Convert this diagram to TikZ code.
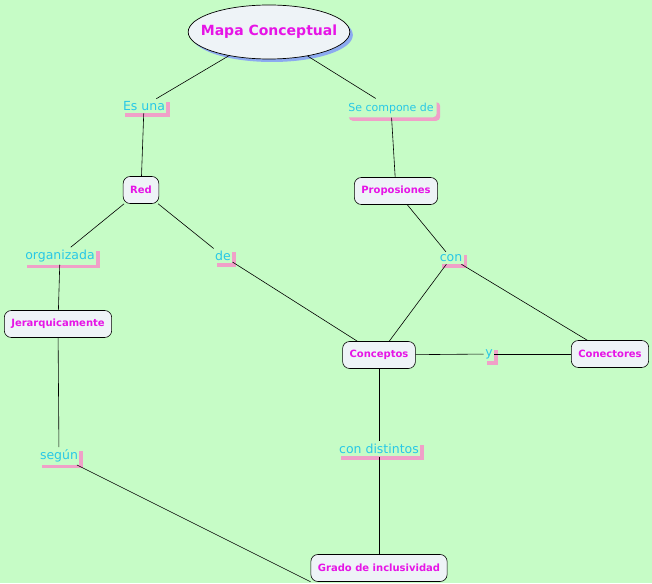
\documentclass[tikz,border=0pt]{standalone}
\usepackage{fontspec}
\setmainfont{DejaVu Sans}
\usetikzlibrary{shapes.geometric,shadows}
\definecolor{bgc}{RGB}{198,252,198}
\definecolor{lblc}{RGB}{40,200,230}
\definecolor{conc}{RGB}{230,20,230}
\definecolor{boxc}{RGB}{238,243,247}
\definecolor{pinkc}{RGB}{240,160,200}
\definecolor{bluec}{RGB}{140,170,240}
\tikzset{
  concept/.style={draw=black, fill=boxc, rounded corners=7pt, font=\fontsize{10}{12}\selectfont\bfseries, text=conc, inner xsep=7pt, minimum height=27pt, line width=0.6pt},
  link/.style={fill=bgc, text=lblc, font=\fontsize{12.5}{14}\selectfont, inner xsep=1.5pt, inner ysep=2.5pt,
    drop shadow={shadow xshift=3.5pt, shadow yshift=-3.5pt, fill=pinkc, opacity=1}},
  edge/.style={draw=black, line width=0.6pt}
}
\begin{document}
\begin{tikzpicture}[x=1pt,y=-1pt]
\fill[bgc] (0,0) rectangle (652,583);
\useasboundingbox (0,0) rectangle (652,583);
\node[ellipse, draw=black, fill=boxc, minimum height=54pt, inner xsep=-11pt, inner ysep=0pt, line width=0.7pt,
  font=\fontsize{14}{16}\selectfont\bfseries, text=conc,
  drop shadow={shadow xshift=3pt, shadow yshift=-3pt, fill=bluec, opacity=1}] (mapa) at (269,32) {Mapa Conceptual};
\node[link] (esuna) at (144,106) {Es una};
\node[link, font=\fontsize{11}{13}\selectfont, rounded corners=4pt, inner xsep=3pt, inner ysep=4pt] (secomp) at (391,108) {Se compone de};
\node[concept] (red) at (141,190) {Red};
\node[concept] (prop) at (396,191) {Proposiones};
\node[link] (organ) at (60,256) {organizada};
\node[link] (de) at (223,256) {de};
\node[link] (con) at (451,258) {con};
\node[concept] (jer) at (58,324) {Jerarquicamente};
\node[concept] (concp) at (379,355) {Conceptos};
\node[link] (y) at (489,354) {y};
\node[concept] (conec) at (610,354) {Conectores};
\node[link] (condist) at (379,449) {con distintos};
\node[link] (segun) at (59,456) {según};
\node[concept] (grado) at (379,568) {Grado de inclusividad};
\draw[edge] (mapa) -- (esuna);
\draw[edge] (esuna) -- (red);
\draw[edge] (mapa) -- (secomp);
\draw[edge] (secomp) -- (prop);
\draw[edge] (red) -- (organ);
\draw[edge] (red) -- (de);
\draw[edge] (de) -- (concp);
\draw[edge] (prop) -- (con);
\draw[edge] (con) -- (concp);
\draw[edge] (con) -- (conec);
\draw[edge] (organ) -- (jer);
\draw[edge] (concp) -- (y);
\draw[edge] (y) -- (conec);
\draw[edge] (concp) -- (condist);
\draw[edge] (condist) -- (grado);
\draw[edge] (jer) -- (segun);
\draw[edge] (segun) -- (grado.south west);
\end{tikzpicture}
\end{document}
